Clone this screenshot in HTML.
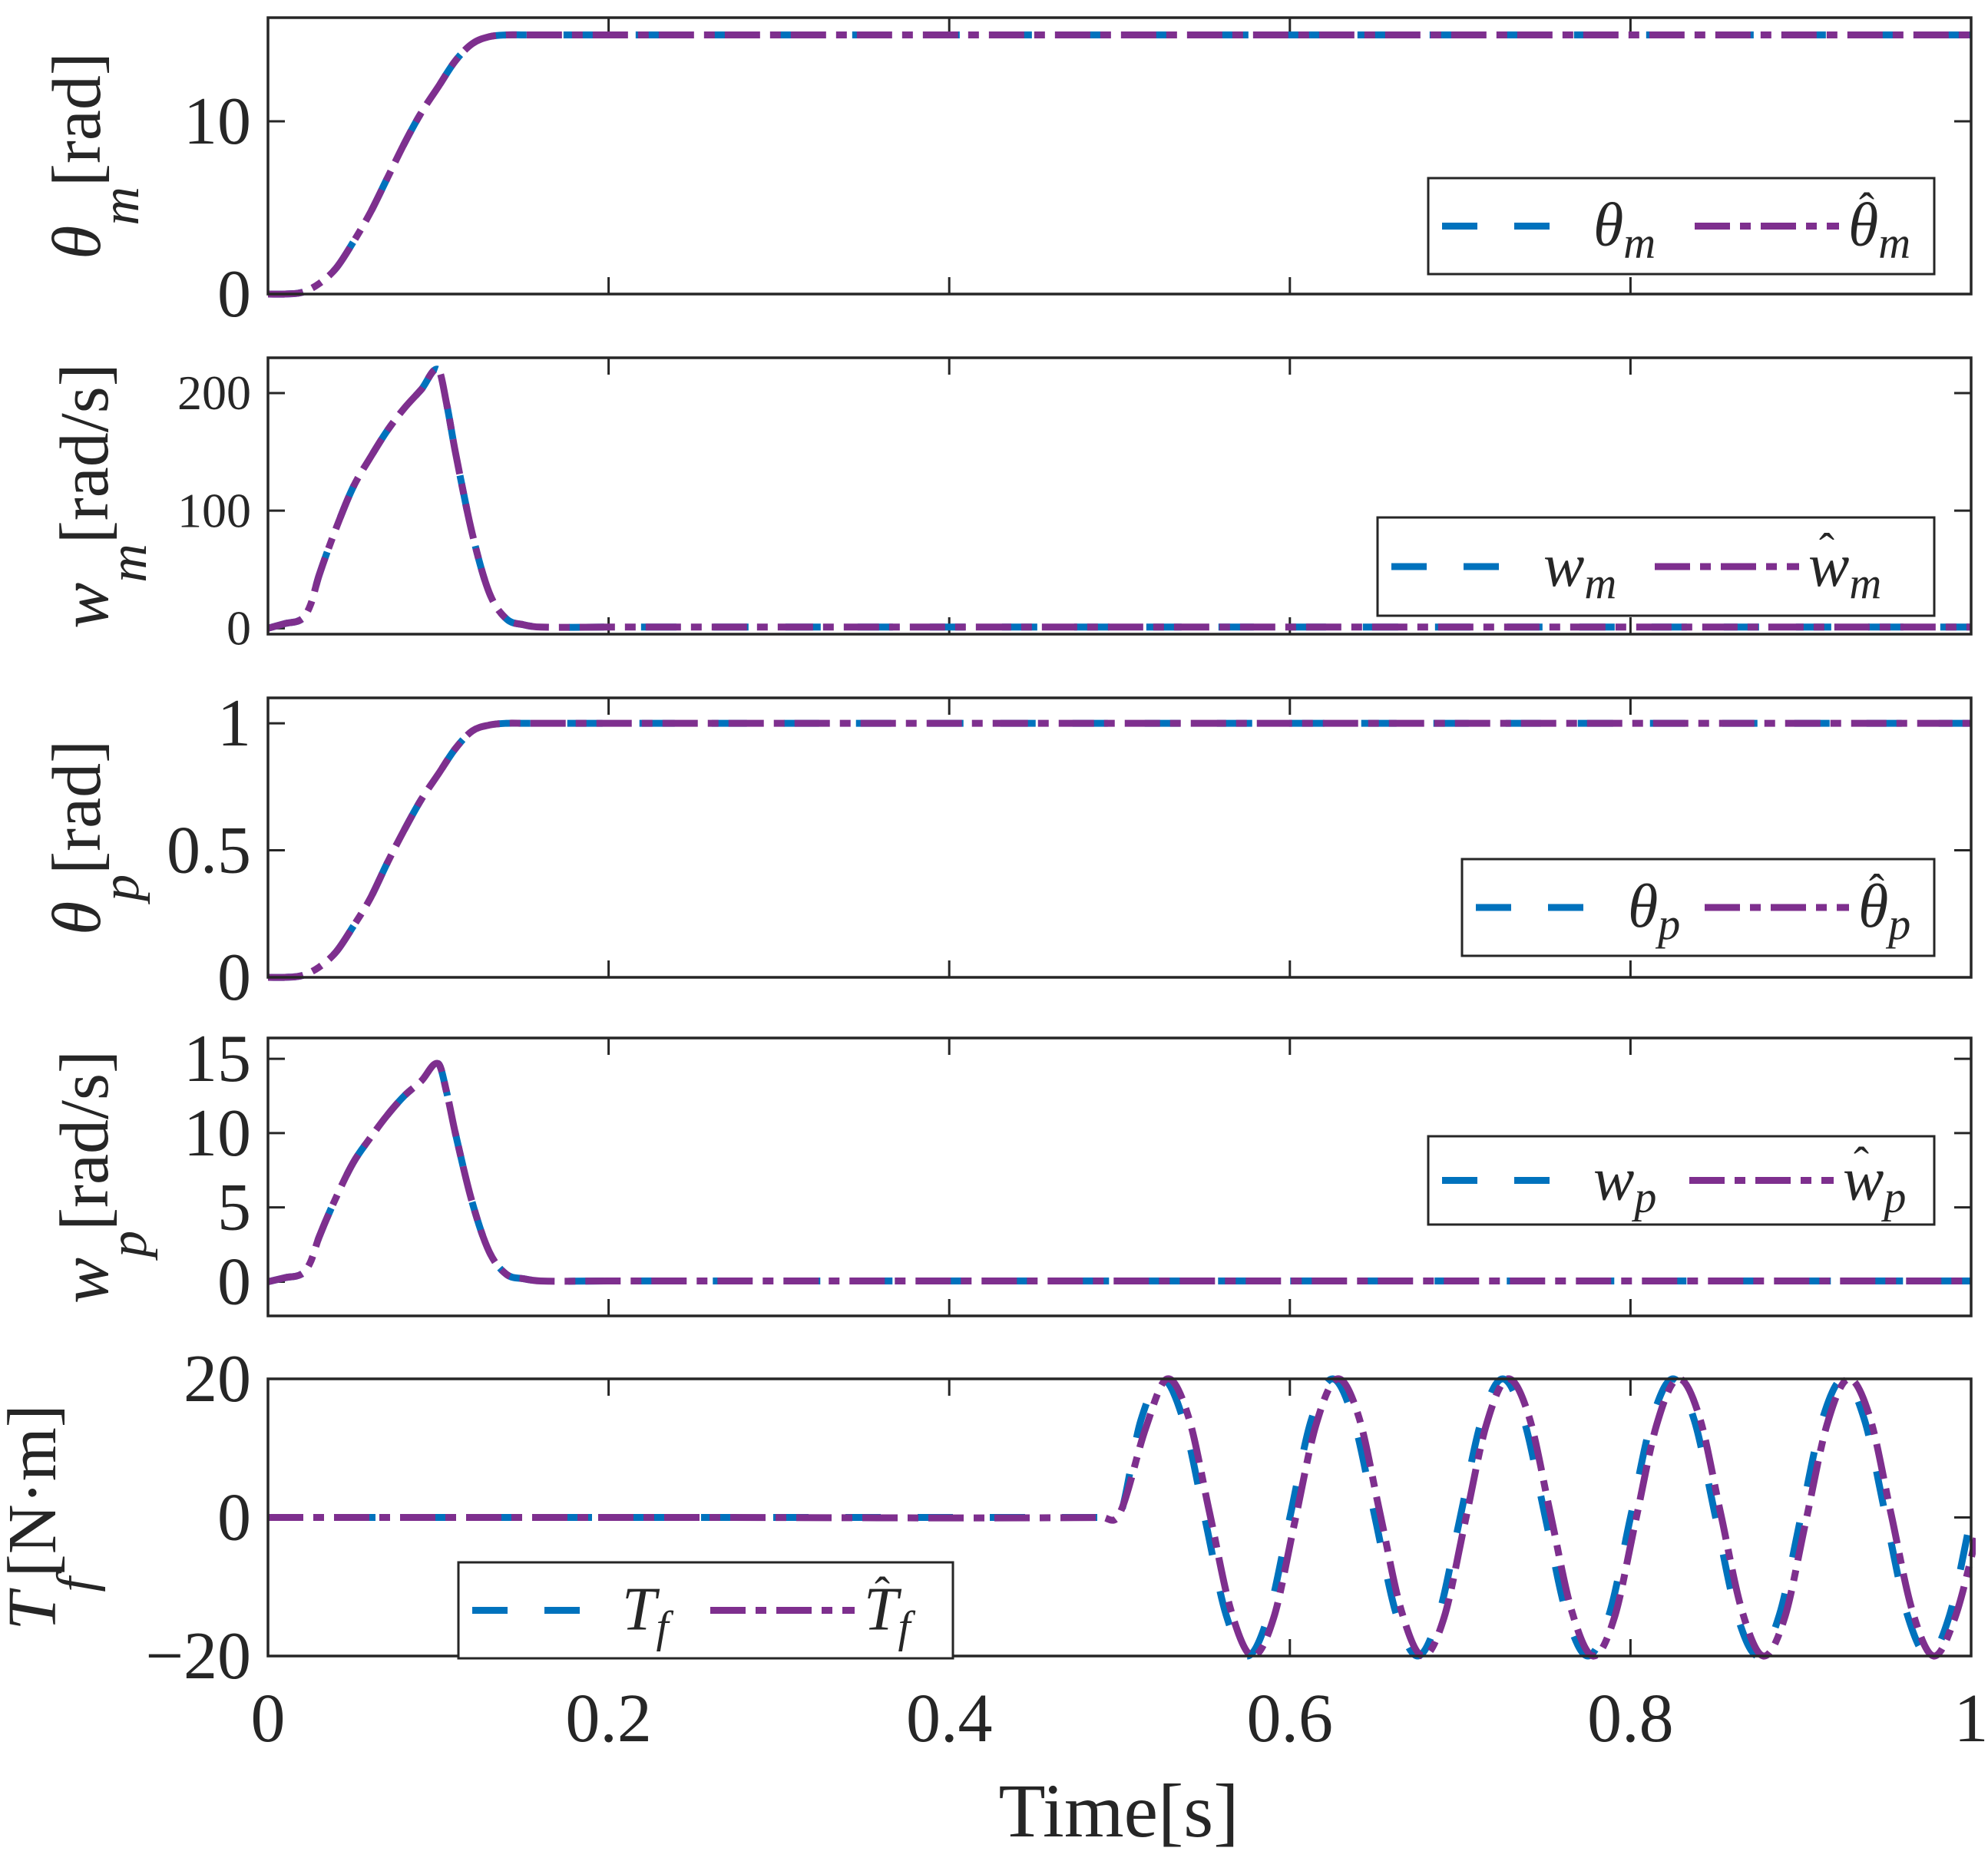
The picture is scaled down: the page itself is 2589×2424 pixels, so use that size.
<!DOCTYPE html>
<html><head><meta charset="utf-8"><style>
html,body{margin:0;padding:0;background:#fff}
svg{display:block}
text{font-family:"Liberation Serif",serif;fill:#262626}
</style></head><body>
<svg id="chart" xmlns="http://www.w3.org/2000/svg" width="2589" height="2424" viewBox="0 0 2589 2424"></svg>
<script>
// ---- data ----
const thetaMTimes = [0,0.01,0.02,0.03,0.04,0.05,0.06,0.07,0.08,0.09,0.1,0.11,0.12,0.13,0.14,0.15,0.2,0.6,1];
const thetaMValues = [0,0,0.1,0.6,1.5,3,4.7,6.7,8.7,10.5,12,13.5,14.5,14.9,15,15,15,15,15];
const wMTimes = [0,0.01,0.02,0.025,0.03,0.04,0.05,0.06,0.07,0.08,0.09,0.1,0.105,0.11,0.12,0.13,0.14,0.15,0.16,0.2,0.6,1];
const wMValues = [0,4,8,20,45,85,120,145,168,187,203,220,190,150,80,30,8,3,1,1,1,1];
const thetaPValues = [0,0,0.007,0.04,0.1,0.2,0.31,0.45,0.58,0.7,0.8,0.9,0.97,0.993,1,1,1,1,1];
const wPValues = [0,0.27,0.53,1.33,3,5.67,8,9.67,11.2,12.5,13.5,14.67,12.7,10,5.3,2,0.5,0.2,0.05,0.05,0.05,0.05];
const tfTimes = [0,0.25,0.49,0.5,0.5125,0.525,0.5375,0.55,0.5625,0.575,0.5875,0.6,0.6125,0.625,0.6375,0.65,0.6625,0.675,0.6875,0.7,0.7125,0.725,0.7375,0.75,0.7625,0.775,0.7875,0.8,0.8125,0.825,0.8375,0.85,0.8625,0.875,0.8875,0.9,0.9125,0.925,0.9375,0.95,0.9625,0.975,0.9875,1];
const tfValues = [0,0,0,0,14,20,14,0,-14,-20,-14,0,14,20,14,0,-14,-20,-14,0,14,20,14,0,-14,-20,-14,0,14,20,14,0,-14,-20,-14,0,14,20,14,0,-14,-20,-14,0];
const tfHatValues = [0,0,0,0.5,13,20,14.5,0.5,-13.5,-20,-14.5,-0.5,13.5,20,14.5,0.5,-13.5,-20,-14.5,-0.5,13.5,20,14.5,0.5,-13.5,-20,-14.5,-0.5,13.5,20,14.5,0.5,-13.5,-20,-14.5,-0.5,13.5,20,14.5,0.5,-13.5,-20,-14.5,-3];
const xTicks = [0,0.2,0.4,0.6,0.8,1];
const xTickLabels = ["0","0.2","0.4","0.6","0.8","1"];

const NS="http://www.w3.org/2000/svg";
const svg=document.getElementById('chart');
function el(tag,attrs,parent){const e=document.createElementNS(NS,tag);for(const k in attrs)e.setAttribute(k,attrs[k]);(parent||svg).appendChild(e);return e;}
const X0=349,X1=2567;
const xs=t=>X0+(X1-X0)*t;
function pathD(ts,vs,ys){
  const p=ts.map((t,i)=>[xs(t),ys(vs[i])]);
  let d='M'+p[0][0].toFixed(1)+','+p[0][1].toFixed(1);
  for(let i=0;i<p.length-1;i++){
    const p0=p[i-1]||p[i],p1=p[i],p2=p[i+1],p3=p[i+2]||p2;
    const dx=p2[0]-p1[0];
    const m1=(p2[1]-p0[1])/((p2[0]-p0[0])||1), m2=(p3[1]-p1[1])/((p3[0]-p1[0])||1);
    const c1=[p1[0]+dx/3,p1[1]+m1*dx/3];
    const c2=[p2[0]-dx/3,p2[1]-m2*dx/3];
    d+=' C'+c1[0].toFixed(1)+','+c1[1].toFixed(1)+' '+c2[0].toFixed(1)+','+c2[1].toFixed(1)+' '+p2[0].toFixed(1)+','+p2[1].toFixed(1);
  }
  return d;
}
const BLUE='#0072BD',PURP='#7E2F8E';
const DASH='46 48',DASHDOT='46 13 14 13';

const panels=[
 {name:'theta-m',top:23,bot:383,ymin:0,ymax:16,yt:[0,10],ytl:['0','10'],tfs:88,
  t:thetaMTimes,v:thetaMValues,vh:thetaMValues,lag:0,
  ylab:['θ','m','[rad]'],ylx:130,leg:{x:1860,y:232,w:659,h:125},sym:'θ',sub:'m',tx:2075,hx:2407},
 {name:'w-m',top:466,bot:826,ymin:-5,ymax:230,yt:[0,100,200],ytl:['0','100','200'],tfs:64,
  t:wMTimes,v:wMValues,vh:wMValues,lag:0,
  ylab:['w','m','[rad/s]'],ylx:140,leg:{x:1794,y:674,w:725,h:128},sym:'w',sub:'m',tx:2010,hx:2355},
 {name:'theta-p',top:909,bot:1273,ymin:0,ymax:1.1,yt:[0,0.5,1],ytl:['0','0.5','1'],tfs:88,
  t:thetaMTimes,v:thetaPValues,vh:thetaPValues,lag:0,
  ylab:['θ','p','[rad]'],ylx:130,leg:{x:1904,y:1119,w:615,h:126},sym:'θ',sub:'p',tx:2120,hx:2420},
 {name:'w-p',top:1352,bot:1714,ymin:-2.3,ymax:16.4,yt:[0,5,10,15],ytl:['0','5','10','15'],tfs:88,
  t:wMTimes,v:wPValues,vh:wPValues,lag:0,
  ylab:['w','p','[rad/s]'],ylx:140,leg:{x:1860,y:1480,w:659,h:115},sym:'w',sub:'p',tx:2075,hx:2400},
 {name:'t-f',top:1796,bot:2157,ymin:-20,ymax:20,yt:[-20,0,20],ytl:['−20','0','20'],tfs:88,
  t:tfTimes,v:tfValues,vh:tfHatValues,lag:0.003,
  ylab:['T','f','[N·m]'],ylx:72,leg:{x:597,y:2035,w:644,h:125},sym:'T',sub:'f',tx:810,hx:1125}
];

panels.forEach((P,pi)=>{
  const g=el('g',{});
  const ys=v=>P.bot-(v-P.ymin)/(P.ymax-P.ymin)*(P.bot-P.top);
  const clipId='clip'+pi;
  const cp=el('clipPath',{id:clipId},g);
  el('rect',{x:X0,y:P.top-10,width:X1-X0+6,height:P.bot-P.top+20},cp);
  const tg=el('g',{stroke:'#262626','stroke-width':3},g);
  xTicks.forEach(t=>{el('line',{x1:xs(t),x2:xs(t),y1:P.bot,y2:P.bot-22},tg);el('line',{x1:xs(t),x2:xs(t),y1:P.top,y2:P.top+22},tg);});
  P.yt.forEach((v,i)=>{
    el('line',{x1:X0,x2:X0+22,y1:ys(v),y2:ys(v)},tg);el('line',{x1:X1,x2:X1-22,y1:ys(v),y2:ys(v)},tg);
    const tl=el('text',{x:X0-22,y:ys(v)+P.tfs*0.33,'text-anchor':'end','font-size':P.tfs},g);
    
    
    tl.textContent=P.ytl[i];
  });
  const blue=el('path',{d:pathD(P.t,P.v,ys),fill:'none',stroke:BLUE,'stroke-width':9,'stroke-dasharray':DASH,'clip-path':'url(#'+clipId+')'},g);
  
  
  const ht=P.t.map((t,i)=>i>=4?Math.min(1.01,t+P.lag):t);
  const purp=el('path',{d:pathD(ht,P.vh,ys),fill:'none',stroke:PURP,'stroke-width':9,'stroke-dasharray':DASHDOT,'clip-path':'url(#'+clipId+')'},g);
  
  
  el('rect',{x:X0,y:P.top,width:X1-X0,height:P.bot-P.top,fill:'none',stroke:'#262626','stroke-width':3.5,},g);
  const cy=(P.top+P.bot)/2;
  const yl=el('text',{transform:'translate('+P.ylx+','+cy+') rotate(-90)','text-anchor':'middle','font-size':90},g);
  
  
  const s1=el('tspan',{'font-style':'italic'},yl);s1.textContent=P.ylab[0];
  const s2=el('tspan',{'font-style':'italic','font-size':70,dy:50},yl);s2.textContent=P.ylab[1];
  const s3=el('tspan',{dy:-50},yl);s3.textContent=P.ylab[2];
  const L=P.leg;
  const lg=el('g',{},g);
  el('rect',{x:L.x,y:L.y,width:L.w,height:L.h,fill:'#fff',stroke:'#262626','stroke-width':3},lg);
  const ly=L.y+L.h/2;
  el('line',{x1:L.x+18,x2:L.x+158,y1:ly,y2:ly,stroke:BLUE,'stroke-width':9,'stroke-dasharray':DASH,},lg);
  const t1=el('text',{x:P.tx,y:ly+25,'font-size':80,'font-style':'italic'},lg);
  
  
  t1.textContent=P.sym;const a=el('tspan',{'font-size':58,dy:16},t1);a.textContent=P.sub;
  el('line',{x1:P.hx-200,x2:P.hx-12,y1:ly,y2:ly,stroke:PURP,'stroke-width':9,'stroke-dasharray':DASHDOT,},lg);
  const t2=el('text',{x:P.hx,y:ly+25,'font-size':80,'font-style':'italic'},lg);
  
  
  t2.textContent=P.sym;const b=el('tspan',{'font-size':58,dy:16},t2);b.textContent=P.sub;
  const hat=el('text',{x:P.hx+24,y:ly-2,'font-size':60,'text-anchor':'middle'},lg);
  
  
  hat.textContent='ˆ';
});
xTicks.forEach((t,i)=>{
  const tl=el('text',{x:xs(t),y:2268,'text-anchor':'middle','font-size':90});
  
  
  tl.textContent=xTickLabels[i];
});
const xl=el('text',{x:1457,y:2392,'text-anchor':'middle','font-size':100});


xl.textContent='Time[s]';
</script>
</body></html>
